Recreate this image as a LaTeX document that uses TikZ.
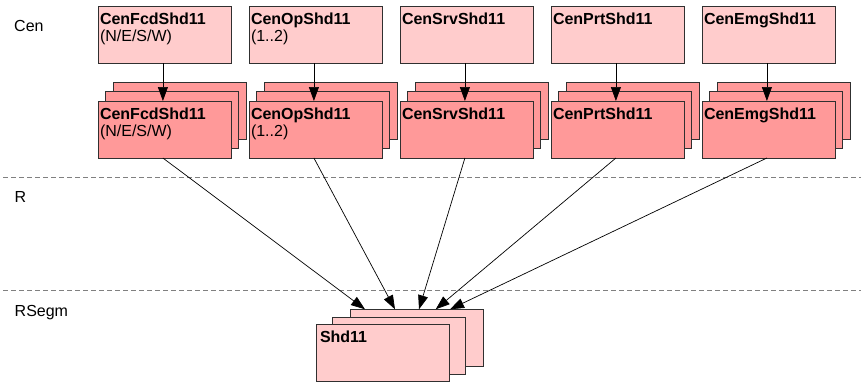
\documentclass[tikz,border=0pt]{standalone}
\usepackage{fontspec}
\setmainfont{Liberation Sans}
\usetikzlibrary{arrows.meta,calc}

\definecolor{lightrose}{HTML}{FFCCCC}
\definecolor{deeprose}{HTML}{FF9999}
\definecolor{edgeline}{HTML}{303030}
\definecolor{laneline}{HTML}{808080}

\tikzset{
  box/.style={draw=edgeline, line width=0.9pt, minimum width=133pt,
    minimum height=57pt, anchor=north west, inner sep=0pt, outer sep=0pt},
  lightbox/.style={box, fill=lightrose},
  darkbox/.style={box, fill=deeprose},
  tag/.style={anchor=north west, inner xsep=1.8pt, inner ysep=0pt,
    align=left, font=\fontsize{16}{17}\selectfont},
  lanetitle/.style={anchor=base west, inner sep=0pt,
    font=\fontsize{16}{17}\selectfont},
  lane/.style={draw=laneline, line width=0.9pt, dash pattern=on 5pt off 3pt},
  flow/.style={draw=black, line width=0.7pt,
    -{Triangle[length=14pt,width=10pt]}},
}

% one column: a component on top and its stacked instances below
\newcommand{\shdcolumn}[3]{%
  \node[lightbox] (top#1) at (#2,6) {};
  \node[tag] (top#1t) at ([yshift=-6.5pt]top#1.north west) {#3};
  \node[darkbox] (back#1) at ({#2+15.4},82.3) {};
  \node[darkbox] (mid#1) at ({#2+7.7},91.7) {};
  \node[darkbox] (front#1) at (#2,101) {};
  \node[tag] (front#1t) at ([yshift=-6.5pt]front#1.north west) {#3};
}

\begin{document}
\begin{tikzpicture}[x=1pt,y=-1pt]
  \useasboundingbox (0,0) rectangle (861,381);

  % lane separators and lane titles
  \coordinate (laneAl) at (3,177);
  \coordinate (laneAr) at (861,177);
  \coordinate (laneBl) at (3,290.5);
  \coordinate (laneBr) at (861,290.5);
  \draw[lane] (laneAl) -- (laneAr);
  \draw[lane] (laneBl) -- (laneBr);
  \node[lanetitle] (cen) at (14,31.7) {Cen};
  \node[lanetitle] (r) at (14.5,202.7) {R};
  \node[lanetitle] (rsegm) at (14.5,316.7) {RSegm};

  % components
  \shdcolumn{1}{98}{\textbf{CenFcdShd11}\\(N/E/S/W)}
  \shdcolumn{2}{249}{\textbf{CenOpShd11}\\(1..2)}
  \shdcolumn{3}{400}{\textbf{CenSrvShd11}}
  \shdcolumn{4}{551}{\textbf{CenPrtShd11}}
  \shdcolumn{5}{702}{\textbf{CenEmgShd11}}

  % segment stack
  \node[lightbox] (sback) at (350.7,309.3) {};
  \node[lightbox] (smid) at (332.3,317.3) {};
  \node[lightbox] (sfront) at (316,324.3) {};
  \node[tag] (sfrontt) at ([xshift=2pt,yshift=-6.2pt]sfront.north west) {\textbf{Shd11}};

  % instantiation arrows
  \foreach \i in {1,...,5}
    \draw[flow] ([xshift=-1.6pt]top\i.south) -- ([xshift=-1.6pt]front\i.north);

  % links to the segment
  \draw[flow] ([xshift=-1.6pt]front1.south) -- ([xshift=14.3pt]sback.north west);
  \draw[flow] ([xshift=-1.6pt]front2.south) -- ([xshift=44.3pt]sback.north west);
  \draw[flow] ([xshift=-1.6pt]front3.south) -- ([xshift=68.3pt]sback.north west);
  \draw[flow] ([xshift=-1.6pt]front4.south) -- ([xshift=85pt]sback.north west);
  \draw[flow] ([xshift=-1.6pt]front5.south) -- ([xshift=99.3pt]sback.north west);
\end{tikzpicture}
\end{document}
